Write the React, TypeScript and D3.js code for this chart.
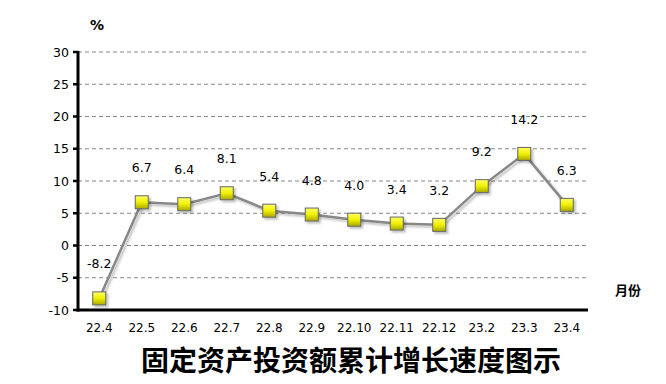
import React from 'react';
import * as d3 from 'd3';

const months = ['22.4', '22.5', '22.6', '22.7', '22.8', '22.9', '22.10', '22.11', '22.12', '23.2', '23.3', '23.4'];
const growth = [-8.2, 6.7, 6.4, 8.1, 5.4, 4.8, 4.0, 3.4, 3.2, 9.2, 14.2, 6.3];
const yTicks = [-10, -5, 0, 5, 10, 15, 20, 25, 30];

const W = 666;
const H = 384;
const left = 78;
const right = 588;
const top = 52;
const bottom = 310;
const font = '"DejaVu Sans", "Noto Sans", sans-serif';

export default function App() {
  const x = d3.scaleBand<string>().domain(months).range([left, right]);
  const y = d3.scaleLinear().domain([-10, 30]).range([bottom, top]);
  const cx = (m: string) => (x(m) as number) + x.bandwidth() / 2;

  const line = d3
    .line<number>()
    .x((_, i) => cx(months[i]))
    .y((d) => y(d));

  return (
    <svg
      width={W}
      height={H}
      style={{ position: 'absolute', left: 0, top: 0, background: '#fff' }}
      fontFamily={font}
    >
      <defs>
        <linearGradient id="box" x1="0" y1="0" x2="0" y2="1">
          <stop offset="0" stopColor="#ffff66" />
          <stop offset="0.5" stopColor="#f0f000" />
          <stop offset="1" stopColor="#a8a800" />
        </linearGradient>
        <filter id="shadow" x="-50%" y="-50%" width="200%" height="200%">
          <feDropShadow dx="2" dy="2" stdDeviation="1.2" floodColor="#000" floodOpacity="0.25" />
        </filter>
      </defs>

      {/* grid */}
      {yTicks.map((t) => (
        <g key={t}>
          {t !== -10 && (
            <line
              x1={left}
              x2={right}
              y1={y(t)}
              y2={y(t)}
              stroke="#888"
              strokeWidth={1}
              strokeDasharray="4,3"
            />
          )}
          <line x1={left - 5} x2={left} y1={y(t)} y2={y(t)} stroke="#000" strokeWidth={2.5} />
          <text x={left - 9} y={y(t)} dy="0.36em" textAnchor="end" fontSize={12.5} fill="#000">
            {t}
          </text>
        </g>
      ))}

      {/* axes */}
      <line x1={left} x2={left} y1={top - 1} y2={bottom + 1.5} stroke="#000" strokeWidth={3} />
      <line x1={left - 1.5} x2={right} y1={bottom} y2={bottom} stroke="#000" strokeWidth={3} />

      {/* x labels */}
      {months.map((m) => (
        <text key={m} x={cx(m)} y={332} textAnchor="middle" fontSize={12} fill="#000">
          {m}
        </text>
      ))}

      {/* line */}
      <path d={line(growth) || ''} fill="none" stroke="#888" strokeWidth={2.5} filter="url(#shadow)" />

      {/* markers */}
      {growth.map((v, i) => (
        <rect
          key={months[i]}
          x={cx(months[i]) - 6.5}
          y={y(v) - 6.5}
          width={13}
          height={13}
          fill="url(#box)"
          stroke="#666"
          strokeWidth={1}
          filter="url(#shadow)"
        />
      ))}

      {/* value labels */}
      {growth.map((v, i) => (
        <text key={'l' + i} x={cx(months[i])} y={y(v) - 30} textAnchor="middle" fontSize={12.5} fill="#000">
          {v.toFixed(1)}
        </text>
      ))}

      <text x={97} y={30} textAnchor="middle" fontSize={14} fontWeight="bold" fill="#000">
        %
      </text>
      <text x={628} y={295} textAnchor="middle" fontSize={13} fontWeight="bold" fill="#000" fontFamily='"Noto Sans CJK SC", sans-serif'>
        月份
      </text>
      <text
        x={351}
        y={371}
        textAnchor="middle"
        fontSize={28}
        fontWeight="bold"
        fill="#000"
        fontFamily='"Noto Sans CJK SC", sans-serif'
      >
        固定资产投资额累计增长速度图示
      </text>
    </svg>
  );
}
